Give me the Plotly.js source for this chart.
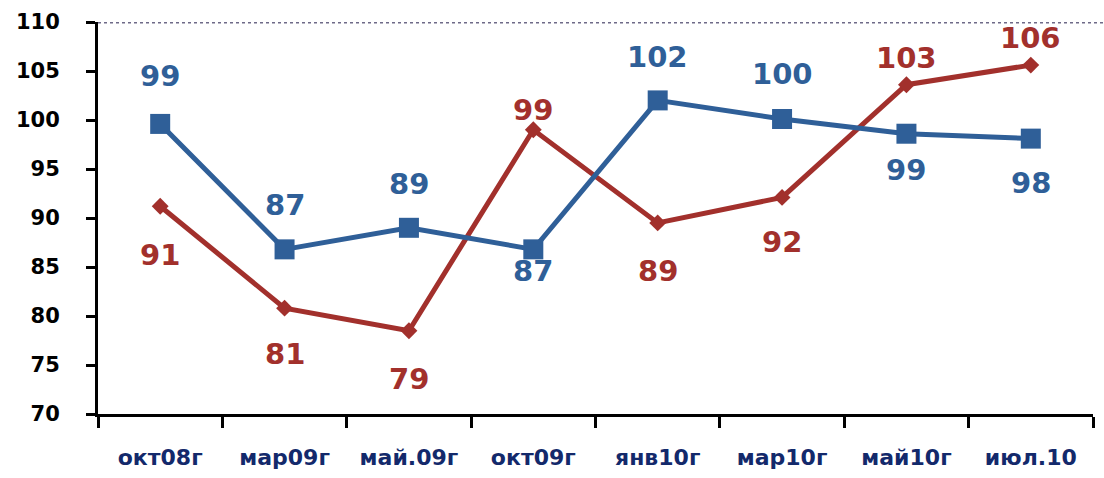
<!DOCTYPE html>
<html>
<head>
<meta charset="utf-8">
<script src="https://cdn.plot.ly/plotly-3.0.1.min.js"></script>
<style>
html,body{margin:0;padding:0;background:#fff;}
#chart{width:1104px;height:478px;}
</style>
</head>
<body>
<div id="chart"></div>
<script>
// ---- data ----
const categories = ["окт08г", "мар09г", "май.09г", "окт09г", "янв10г", "мар10г", "май10г", "июл.10"];
const blueValues = [99.6, 86.8, 89.0, 86.8, 102.0, 100.1, 98.6, 98.1];
const blueLabels = ["99", "87", "89", "87", "102", "100", "99", "98"];
const redValues  = [91.2, 80.8, 78.5, 99.0, 89.5, 92.1, 103.6, 105.6];
const redLabels  = ["91", "81", "79", "99", "89", "92", "103", "106"];
const yTicks = [70, 75, 80, 85, 90, 95, 100, 105, 110];

// ---- styles ----
const BLUE = "#2f5f98";
const RED = "#a2302c";
const labelFont = {family: "DejaVu Sans", size: 29, weight: 700};
const blueShift = [48, 44, 44, -22, 43, 45, -36, -44];
const redShift  = [-49, -46, -48, 20, -48, -45, 27, 27];

const traces = [
  {
    x: categories, y: redValues, type: "scatter", mode: "lines+markers",
    line: {color: RED, width: 5},
    marker: {symbol: "diamond", size: 13, color: RED},
    hoverinfo: "skip", showlegend: false
  },
  {
    x: categories, y: blueValues, type: "scatter", mode: "lines+markers",
    line: {color: BLUE, width: 5},
    marker: {symbol: "square", size: 20, color: BLUE},
    hoverinfo: "skip", showlegend: false
  }
];

const annotations = [];
categories.forEach((c, i) => {
  annotations.push({x: c, y: blueValues[i], xref: "x", yref: "y", text: blueLabels[i],
    showarrow: false, yshift: blueShift[i], font: Object.assign({color: BLUE}, labelFont)});
  annotations.push({x: c, y: redValues[i], xref: "x", yref: "y", text: redLabels[i],
    showarrow: false, yshift: redShift[i], font: Object.assign({color: RED}, labelFont)});
});

const layout = {
  width: 1104, height: 478,
  margin: {l: 98, r: 11, t: 22, b: 64},
  paper_bgcolor: "#ffffff", plot_bgcolor: "#ffffff",
  showlegend: false,
  xaxis: {
    type: "category", range: [-0.5, 7.5],
    showline: true, linecolor: "#000", linewidth: 3,
    ticks: "outside", tickson: "boundaries", ticklen: 11, tickwidth: 3, tickcolor: "#000",
    showgrid: false, zeroline: false,
    ticklabelstandoff: 22,
    tickfont: {family: "DejaVu Sans", size: 22, weight: 700, color: "#13296b"}
  },
  yaxis: {
    range: [70, 110], tickvals: yTicks, ticktext: yTicks.map(String),
    showline: true, linecolor: "#000", linewidth: 3,
    ticks: "outside", ticklen: 9, tickwidth: 3, tickcolor: "#000",
    showgrid: false, zeroline: false,
    ticklabelstandoff: 22,
    tickfont: {family: "DejaVu Sans", size: 21, weight: 700, color: "#000"}
  },
  shapes: [{
    type: "line", xref: "paper", yref: "y", x0: 0, x1: 1.02, y0: 110, y1: 110,
    line: {color: "#6e6a88", width: 3, dash: "dot"}
  }],
  annotations: annotations
};

Plotly.newPlot("chart", traces, layout, {displayModeBar: false, staticPlot: true});
</script>
</body>
</html>
